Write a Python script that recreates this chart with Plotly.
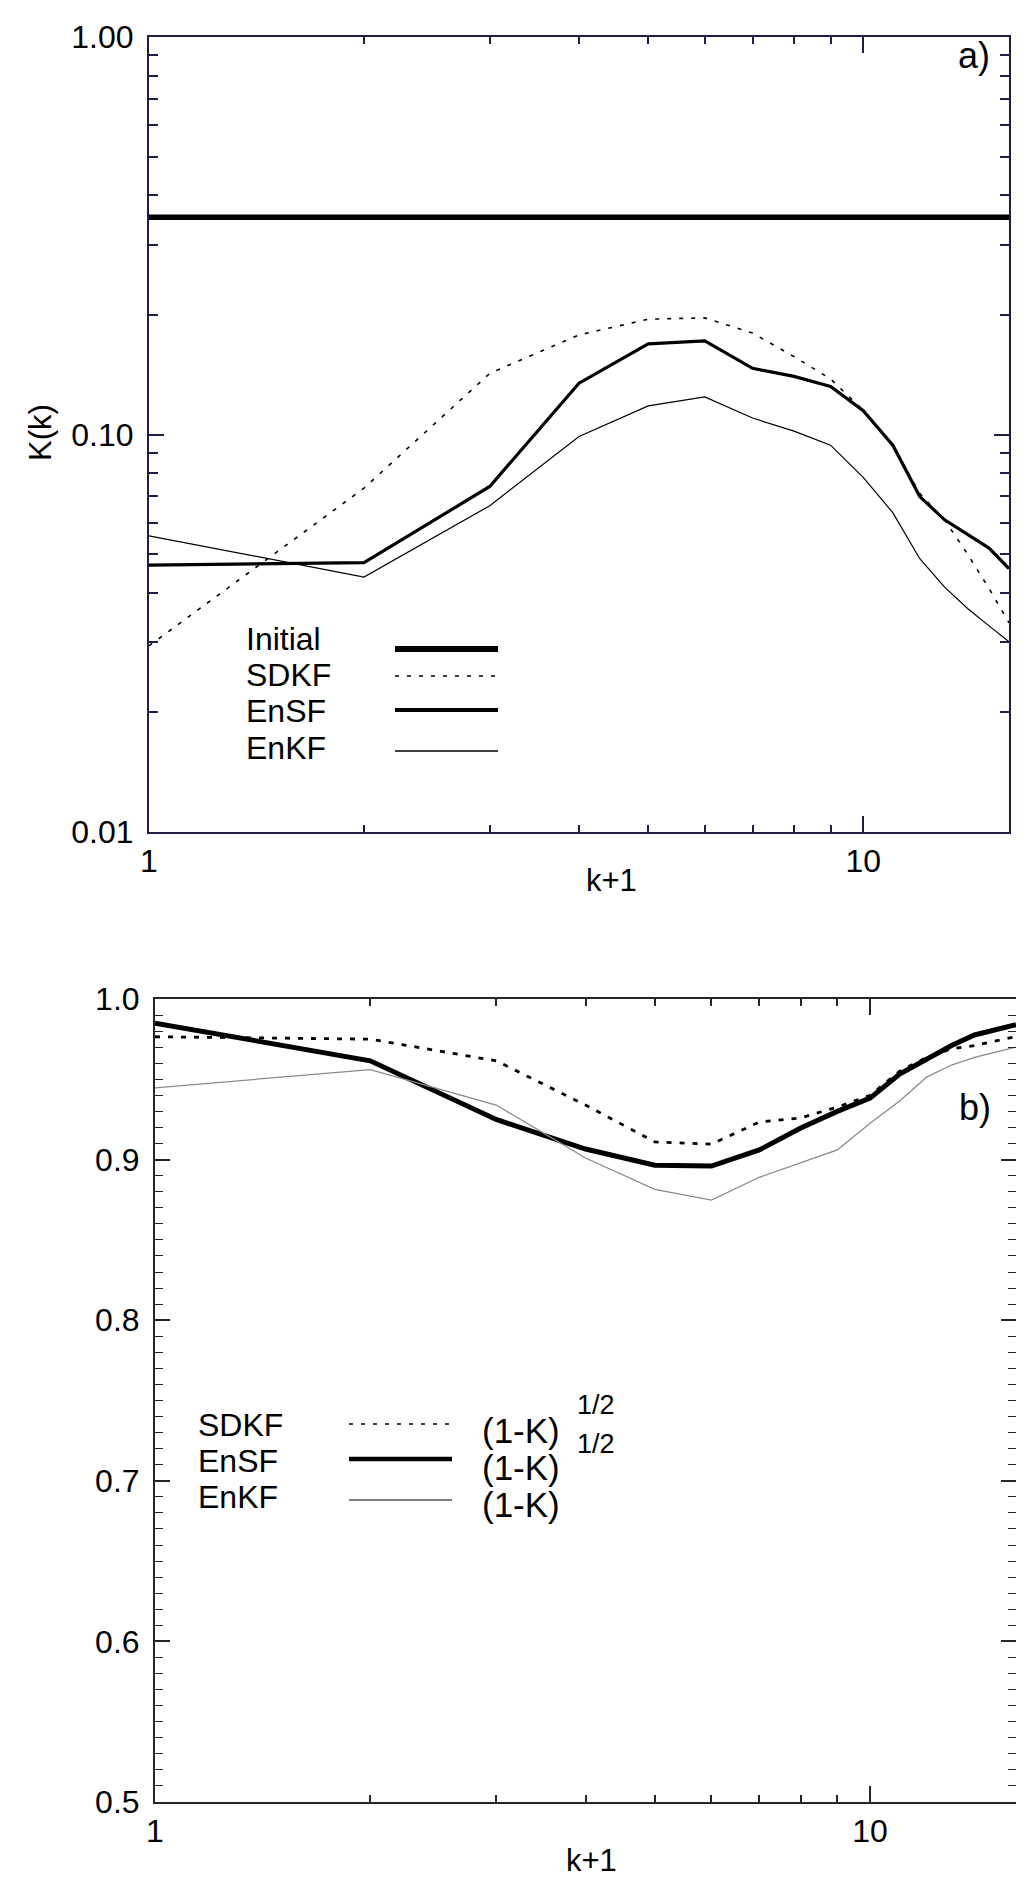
import plotly.graph_objects as go

W, H = 1024, 1881

# k+1 values (same for both panels)
k_plus_1 = [1, 2, 3, 4, 5, 6, 7, 8, 9, 10, 11, 12, 13, 14, 15, 16]

# panel a) K(k)
initial_a = [0.352, 0.352, 0.352, 0.352, 0.352, 0.352, 0.352, 0.352,
             0.352, 0.352, 0.352, 0.352, 0.352, 0.352, 0.352, 0.352]
sdkf_a = [0.0294, 0.0733, 0.1425, 0.178, 0.195, 0.1965, 0.180, 0.157,
          0.138, 0.115, 0.094, 0.071, 0.061, 0.050, 0.041, 0.0336]
ensf_a = [0.0469, 0.0476, 0.074, 0.1346, 0.169, 0.172, 0.1467, 0.140,
          0.132, 0.1148, 0.094, 0.0698, 0.061, 0.0562, 0.0518, 0.046]
enkf_a = [0.0556, 0.0438, 0.0662, 0.0989, 0.118, 0.1243, 0.110, 0.102,
          0.094, 0.078, 0.0636, 0.0487, 0.0413, 0.0365, 0.033, 0.0301]

# panel b) (1-K)^1/2 and (1-K)
sdkf_b = [0.9765, 0.975, 0.9615, 0.934, 0.911, 0.9096, 0.9234, 0.926,
          0.9327, 0.940, 0.955, 0.9637, 0.969, 0.971, 0.974, 0.9765]
ensf_b = [0.985, 0.9615, 0.925, 0.9066, 0.8965, 0.896, 0.906, 0.9197,
          0.930, 0.9383, 0.9533, 0.9626, 0.971, 0.9776, 0.9813, 0.984]
enkf_b = [0.9447, 0.956, 0.934, 0.901, 0.8815, 0.8748, 0.889, 0.898,
          0.906, 0.9226, 0.9365, 0.9514, 0.9589, 0.9637, 0.967, 0.970]

legend_a = ["Initial", "SDKF", "EnSF", "EnKF"]
legend_b = ["SDKF", "EnSF", "EnKF"]
expr_b = ["(1-K)", "(1-K)", "(1-K)"]

FONT = "Liberation Sans, Arial, Helvetica, sans-serif"


def px(x):
    return x / W


def py(y):
    return 1 - y / H


fig = go.Figure()

# panel a
fig.add_trace(go.Scatter(x=k_plus_1, y=initial_a, mode="lines",
                         line=dict(color="black", width=5.5), xaxis="x", yaxis="y"))
fig.add_trace(go.Scatter(x=k_plus_1, y=sdkf_a, mode="lines",
                         line=dict(color="black", width=1.6, dash="4px,8px"), xaxis="x", yaxis="y"))
fig.add_trace(go.Scatter(x=k_plus_1, y=ensf_a, mode="lines",
                         line=dict(color="black", width=3.2), xaxis="x", yaxis="y"))
fig.add_trace(go.Scatter(x=k_plus_1, y=enkf_a, mode="lines",
                         line=dict(color="black", width=1.2), xaxis="x", yaxis="y"))

# panel b
fig.add_trace(go.Scatter(x=k_plus_1, y=sdkf_b, mode="lines",
                         line=dict(color="black", width=2.8, dash="5px,8px"), xaxis="x2", yaxis="y2"))
fig.add_trace(go.Scatter(x=k_plus_1, y=ensf_b, mode="lines",
                         line=dict(color="black", width=5), xaxis="x2", yaxis="y2"))
fig.add_trace(go.Scatter(x=k_plus_1, y=enkf_b, mode="lines",
                         line=dict(color="#8a8a8a", width=1.3), xaxis="x2", yaxis="y2"))

log_minor_x = [2, 3, 4, 5, 6, 7, 8, 9]
log_minor_y = [0.02, 0.03, 0.04, 0.05, 0.06, 0.07, 0.08, 0.09,
               0.2, 0.3, 0.4, 0.5, 0.6, 0.7, 0.8, 0.9]

axis_a = dict(showline=True, linewidth=2, linecolor="#1e1e46", mirror="ticks",
              ticks="inside", tickwidth=1.6, tickcolor="#1e1e46",
              showgrid=False, zeroline=False, automargin=False,
              tickfont=dict(family=FONT, size=32, color="black"))
axis_b = dict(axis_a, linecolor="#262626", tickcolor="#262626")

fig.update_layout(
    width=W, height=H,
    margin=dict(l=0, r=0, t=0, b=0),
    paper_bgcolor="white", plot_bgcolor="white",
    showlegend=False,
    font=dict(family=FONT, color="black"),
    xaxis=dict(axis_a, type="log", range=[0, 1.2041], domain=[px(141), px(1001)],
               anchor="y", tickvals=[1, 10], ticktext=["1", "10"], ticklen=16,
               ticklabelstandoff=0,
               minor=dict(tickvals=log_minor_x, ticks="inside", ticklen=7,
                          tickwidth=1.6, tickcolor="#1e1e46")),
    yaxis=dict(axis_a, type="log", range=[-2, 0], domain=[py(824), py(29)],
               anchor="x", tickvals=[0.01, 0.1, 1], ticktext=["0.01", "0.10", "1.00"],
               ticklen=15, ticklabelstandoff=7,
               minor=dict(tickvals=log_minor_y, ticks="inside", ticklen=9,
                          tickwidth=1.6, tickcolor="#1e1e46")),
    xaxis2=dict(axis_b, type="log", range=[0, 1.2041], domain=[px(147), px(1008)],
                anchor="y2", tickvals=[1, 10], ticktext=["1", "10"], ticklen=16,
                ticklabelstandoff=0,
                minor=dict(tickvals=log_minor_x, ticks="inside", ticklen=7,
                           tickwidth=1.6, tickcolor="#262626")),
    yaxis2=dict(axis_b, range=[0.5, 1.0], domain=[py(1794), py(991)],
                anchor="x2", tick0=0.5, dtick=0.1, tickformat=".1f", ticklen=15,
                ticklabelstandoff=7,
                minor=dict(dtick=0.01, ticks="inside", ticklen=8,
                           tickwidth=1.4, tickcolor="#262626")),
)

annotations = [
    dict(text="K(k)", x=px(33), y=py(425), textangle=-90, font=dict(size=31)),
    dict(text="k+1", x=px(603), y=py(872), font=dict(size=31)),
    dict(text="k+1", x=px(583), y=py(1852), font=dict(size=31)),
    dict(text="a)", x=px(966), y=py(47), font=dict(size=36)),
    dict(text="b)", x=px(967), y=py(1099), font=dict(size=36)),
]

# legend of panel a: text on the left, line sample on the right
rows_a = [631, 667, 703, 740]
lines_a = [641, 668, 702, 743]
styles_a = [dict(width=6), dict(width=1.5, dash="4px,8px"), dict(width=4), dict(width=1.3)]
shapes = []
for name, ty, ly, st in zip(legend_a, rows_a, lines_a, styles_a):
    annotations.append(dict(text=name, x=px(236), y=py(ty), xanchor="left",
                            font=dict(size=32)))
    shapes.append(dict(type="line", xref="paper", yref="paper",
                       x0=px(387), x1=px(490), y0=py(ly), y1=py(ly),
                       line=dict(color="black", **st)))

# legend of panel b
rows_b = [1417, 1453, 1489]
lines_b = [1416, 1451, 1492]
sup_y = [1397, 1436]
styles_b = [dict(color="black", width=1.5, dash="4px,8px"),
            dict(color="black", width=4.5),
            dict(color="#555555", width=1.3)]
for name, ty, ly, st in zip(legend_b, rows_b, lines_b, styles_b):
    annotations.append(dict(text=name, x=px(188), y=py(ty), xanchor="left",
                            font=dict(size=32)))
    shapes.append(dict(type="line", xref="paper", yref="paper",
                       x0=px(341), x1=px(444), y0=py(ly), y1=py(ly), line=st))

# the three (1-K) labels as one block so the tight rows keep their spacing
expr_text = "<br>".join('<span style="font-size:35px">%s</span>' % e for e in expr_b)
annotations.append(dict(text=expr_text, x=px(472), y=py(1459), xanchor="left",
                        align="left", font=dict(size=28.5)))
for sy in sup_y:
    annotations.append(dict(text="1/2", x=px(567), y=py(sy), xanchor="left",
                            font=dict(size=27)))

for a in annotations:
    a.update(xref="paper", yref="paper", showarrow=False)
    a.setdefault("xanchor", "center")
    a["yanchor"] = "middle"
    a["font"] = dict(family=FONT, color="black", **a["font"])

fig.update_layout(annotations=annotations, shapes=shapes)

fig.write_html("out.html")
